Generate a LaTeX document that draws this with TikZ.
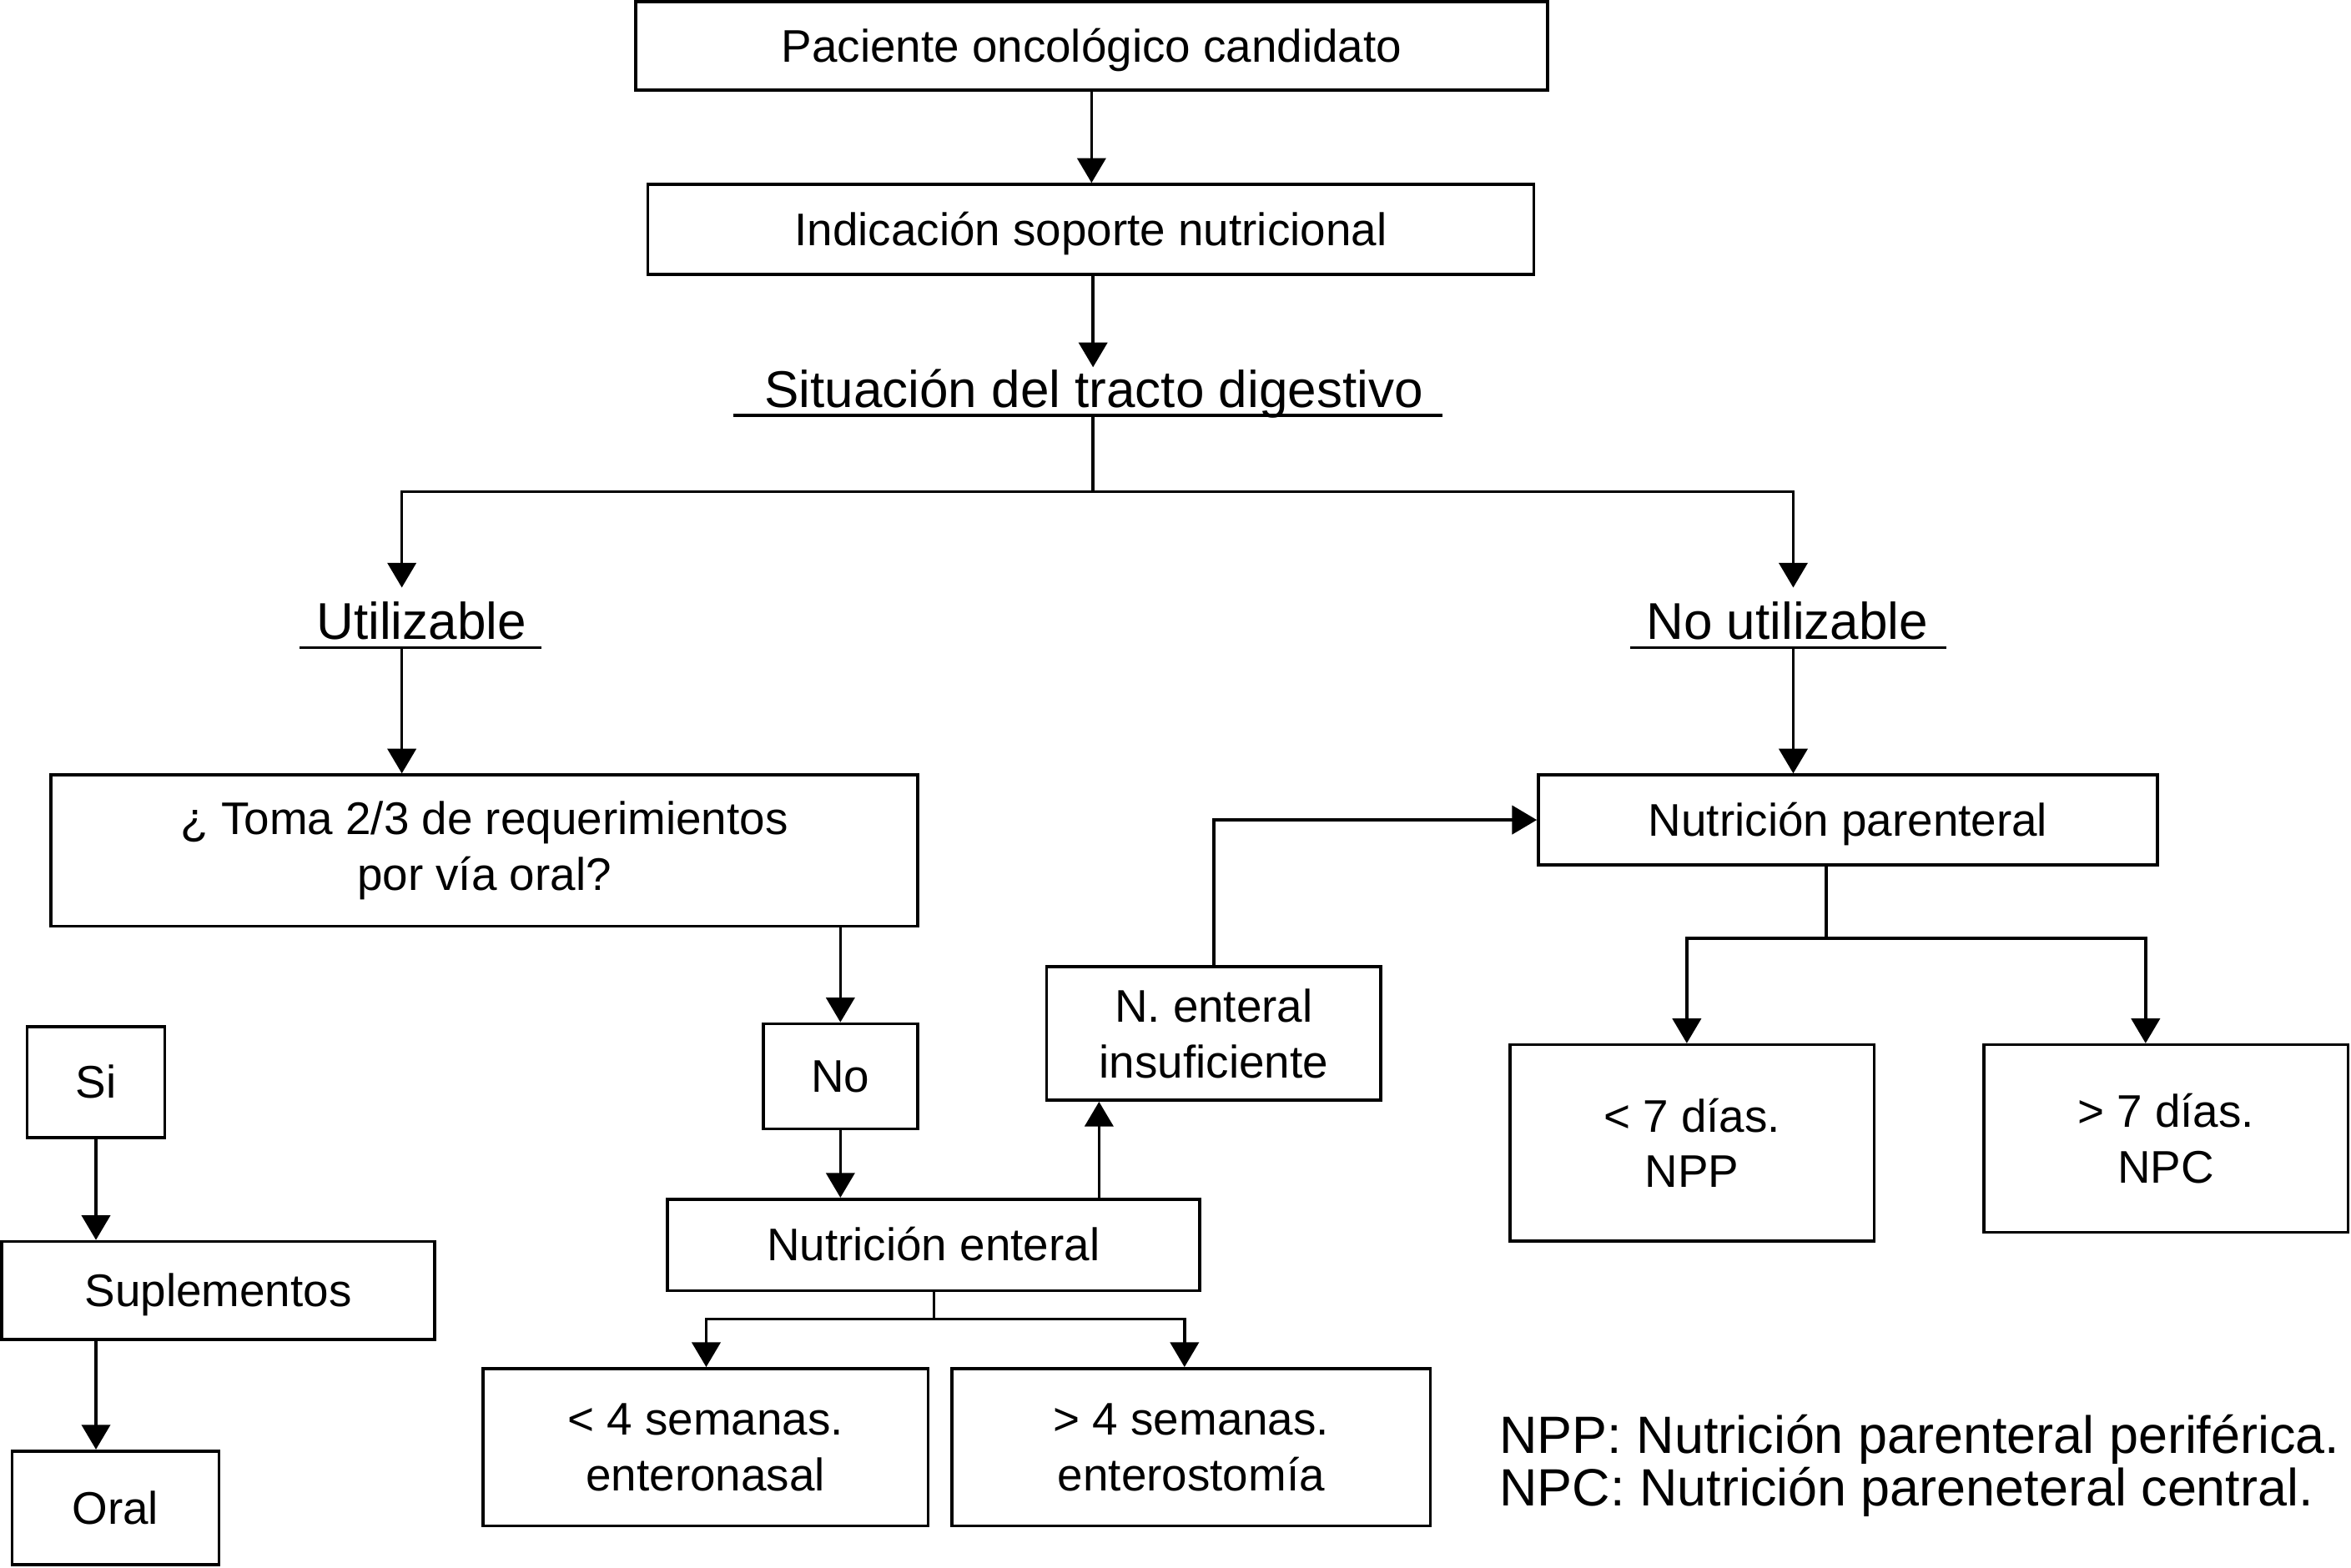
\documentclass[tikz,border=0pt]{standalone}
\usepackage{fontspec}
\setmainfont{Liberation Sans}
\usetikzlibrary{arrows.meta}
\begin{document}
\begin{tikzpicture}[x=1pt,y=-1pt,
  box/.style={draw, line width=2pt, inner sep=0pt, align=center, font=\fontsize{30.5}{37}\selectfont},
  sl/.style={text height=28pt, text depth=6.6pt},
  hd/.style={inner sep=0pt, font=\fontsize{34.5}{40}\selectfont},
  leg/.style={inner sep=0pt, font=\fontsize{35}{35}\selectfont},
  conn/.style={line width=2pt},
  arr/.style={conn, -{Triangle[length=16.5pt,width=19pt]}}
]
\useasboundingbox (0,0) rectangle (1568,1046);
\fill[white] (0,0) rectangle (1568,1046);

% boxes
\node[box, sl, minimum width=608pt, minimum height=59pt] (pac) at (728,30.5) {Paciente oncológico candidato};
\node[box, sl, minimum width=591pt, minimum height=60pt] (ind) at (727.5,153) {Indicación soporte nutricional};
\node[hd, anchor=base] (sit) at (729.5,272) {Situación del tracto digestivo};
\node[hd, anchor=base] (util) at (281,426.5) {Utilizable};
\node[hd, anchor=base] (nutil) at (1192,426.5) {No utilizable};
\node[box, minimum width=578pt, minimum height=101pt] (toma) at (323,567.5) {¿ Toma 2/3 de requerimientos\\por vía oral?};
\node[box, sl, minimum width=413pt, minimum height=60pt] (np) at (1232.5,547) {Nutrición parenteral};
\node[box, sl, minimum width=92pt, minimum height=74pt] (si) at (64,722) {Si};
\node[box, sl, minimum width=103pt, minimum height=70pt] (no) at (560.5,718) {No};
\node[box, minimum width=223pt, minimum height=89pt] (nei) at (809.5,689.5) {N. enteral\\insuficiente};
\node[box, minimum width=243pt, minimum height=131pt] (npp) at (1128.5,762.5) {< 7 días.\\NPP};
\node[box, minimum width=243pt, minimum height=125pt] (npc) at (1444.5,759.5) {> 7 días.\\NPC};
\node[box, sl, minimum width=355pt, minimum height=61pt] (ne) at (622.5,830.5) {Nutrición enteral};
\node[box, sl, minimum width=289pt, minimum height=65.5pt] (supl) at (145.5,861) {Suplementos};
\node[box, minimum width=297pt, minimum height=105pt] (lt4) at (470.5,965.5) {< 4 semanas.\\enteronasal};
\node[box, minimum width=319pt, minimum height=105pt] (gt4) at (794.5,965.5) {> 4 semanas.\\enterostomía};
\node[box, sl, minimum width=138pt, minimum height=76pt] (oral) at (77,1006) {Oral};
\node[leg, anchor=base west] (leg1) at (1000,969.5) {NPP: Nutrición parenteral periférica.};
\node[leg, anchor=base west] (leg2) at (1000,1004.5) {NPC: Nutrición pareneteral central.};

% helper coordinates
\coordinate (sitIn) at (729,245);
\coordinate (sitUL) at (489,277);
\coordinate (sitUR) at (962,277);
\coordinate (sitU) at (729,277);
\coordinate (sitJ) at (729,328);
\coordinate (utIn) at (268,392);
\coordinate (nuIn) at (1196,392);
\coordinate (utUL) at (200,432);
\coordinate (utUR) at (361,432);
\coordinate (nuUL) at (1087,432);
\coordinate (nuUR) at (1298,432);
\coordinate (utU) at (268,432);
\coordinate (nuU) at (1196,432);
\coordinate (xA) at (733,0);
\coordinate (npJ) at (1218,626);
\coordinate (xNPP) at (1125,0);
\coordinate (xNPC) at (1431,0);
\coordinate (neJ) at (623,880);
\coordinate (xL4) at (471,0);
\coordinate (xG4) at (790,0);

% underlines
\draw[conn] (sitUL) -- (sitUR);
\draw[conn] (utUL) -- (utUR);
\draw[conn] (nuUL) -- (nuUR);

% connectors
\draw[arr] (pac.south) -- (pac.south |- ind.north);
\draw[arr] (ind.south -| sitIn) -- (sitIn);
\draw[conn] (sitU) -- (sitJ);
\draw[arr] (sitJ) -| (utIn);
\draw[arr] (sitJ) -| (nuIn);
\draw[arr] (utU) -- (utU |- toma.north);
\draw[arr] (nuU) -- (nuU |- np.north);
\draw[arr] (toma.south -| no.north) -- (no.north);
\draw[arr] (no.south) -- (no.south |- ne.north);
\draw[arr] (ne.north -| xA) -- (nei.south -| xA);
\draw[arr] (nei.north) |- (np.west);
\draw[conn] (np.south -| npJ) -- (npJ);
\draw[arr] (npJ) -| (npp.north -| xNPP);
\draw[arr] (npJ) -| (npc.north -| xNPC);
\draw[conn] (ne.south -| neJ) -- (neJ);
\draw[arr] (neJ) -| (lt4.north -| xL4);
\draw[arr] (neJ) -| (gt4.north -| xG4);
\draw[arr] (si.south) -- (si.south |- supl.north);
\draw[arr] (supl.south -| si.south) -- (si.south |- oral.north);
\end{tikzpicture}
\end{document}
